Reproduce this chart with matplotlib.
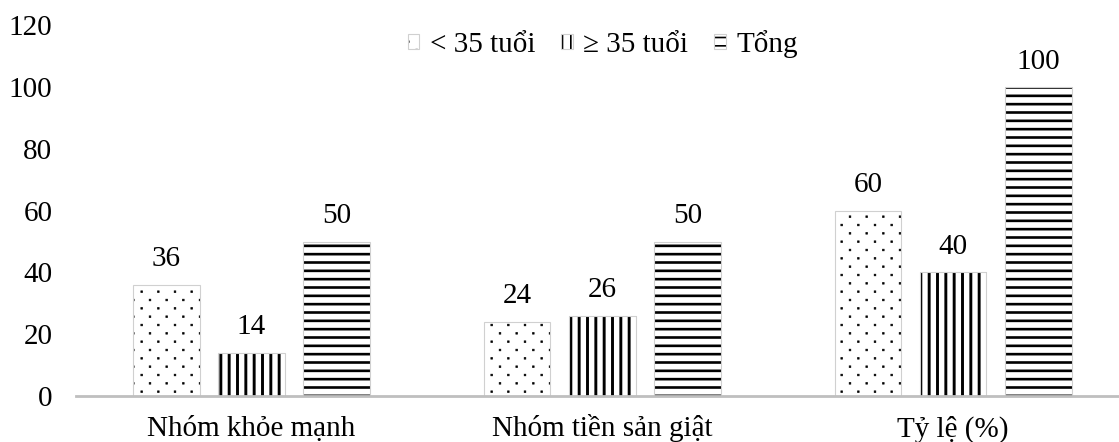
import matplotlib
matplotlib.use("Agg")
import matplotlib.pyplot as plt
import matplotlib.hatch as mhatch
from matplotlib.path import Path
import numpy as np

categories = ["Nhóm khỏe mạnh", "Nhóm tiền sản giật", "Tỷ lệ (%)"]
series_names = ["< 35 tuổi", "≥ 35 tuổi", "Tổng"]
under35 = [36, 24, 60]
over35 = [14, 26, 40]
total = [50, 50, 100]
yticks = [0, 20, 40, 60, 80, 100, 120]

plt.rcParams['font.family'] = ['Liberation Serif', 'DejaVu Serif']
plt.rcParams['hatch.linewidth'] = 2.0
plt.rcParams['hatch.color'] = 'black'


class SparseDots(mhatch.HatchPatternBase):
    """Small square dots: columns every 1/6, rows every 1/12, staggered."""
    side = 0.016

    def __init__(self, hatch, density):
        self.n = hatch.count('.')
        self._pts = []
        if self.n:
            ncol = 6
            nrow = 12
            for r in range(nrow + 1):
                y = r / nrow
                if r % 2 == 0:
                    xs = [k / ncol for k in range(ncol + 1)]
                else:
                    xs = [(k + 0.5) / ncol for k in range(ncol)]
                for xx in xs:
                    self._pts.append((xx, y))
        self.num_vertices = len(self._pts) * 5

    def set_vertices_and_codes(self, vertices, codes):
        h = self.side / 2
        sq = np.array([[-h, -h], [h, -h], [h, h], [-h, h], [-h, -h]])
        sc = [Path.MOVETO, Path.LINETO, Path.LINETO, Path.LINETO, Path.CLOSEPOLY]
        for i, (px, py) in enumerate(self._pts):
            vertices[i * 5:(i + 1) * 5] = sq + [px, py]
            codes[i * 5:(i + 1) * 5] = sc


mhatch._hatch_types = [SparseDots if t is mhatch.SmallFilledCircles else t
                       for t in mhatch._hatch_types]


def black_hatch(p, lw):
    try:
        p.set_hatchcolor('black')
    except Exception:
        p._hatch_color = (0, 0, 0, 1)
    try:
        p.set_hatch_linewidth(lw)
    except Exception:
        pass


fig = plt.figure(figsize=(11.19, 4.42), dpi=100)
ax = fig.add_axes([0.068, 0.104, 0.932, 0.839])

x = np.arange(len(categories))
w = 0.19
off = 0.243
hatches = ['.', '||', '--']
hlw = [0.5, 2.1, 1.9]
data = [under35, over35, total]
for i, (vals, h, name) in enumerate(zip(data, hatches, series_names)):
    bars = ax.bar(x + (i - 1) * off, vals, width=w, facecolor='white',
                  edgecolor='#d0d0d0', linewidth=0.8, hatch=h, label=name)
    for b in bars:
        black_hatch(b, hlw[i])
    ax.bar_label(bars, labels=[str(v) for v in vals], padding=9, fontsize=21)

ax.set_xlim(-0.5, 2.473)
ax.set_ylim(0, 120)
ax.set_yticks(yticks)
ax.set_xticks(x)
ax.set_xticklabels(categories, fontsize=21)
for lbl in ax.get_xticklabels():
    lbl.set_verticalalignment('baseline')
ax.tick_params(axis='y', length=0, pad=17, labelsize=21)
ax.tick_params(axis='x', length=0, pad=29)
for s in ['top', 'right', 'left']:
    ax.spines[s].set_visible(False)
ax.spines['bottom'].set_color('#bfbfbf')
ax.spines['bottom'].set_linewidth(2)

leg = ax.legend(loc='center', bbox_to_anchor=(0.505, 0.95), ncol=3, frameon=False,
                fontsize=21, handlelength=0.4, handleheight=0.4, handletextpad=0.35,
                columnspacing=0.9, borderpad=0)
for p, lw in zip(leg.get_patches(), [0.5, 1.2, 1.2]):
    black_hatch(p, lw)

fig.savefig("out.png", dpi=100)
